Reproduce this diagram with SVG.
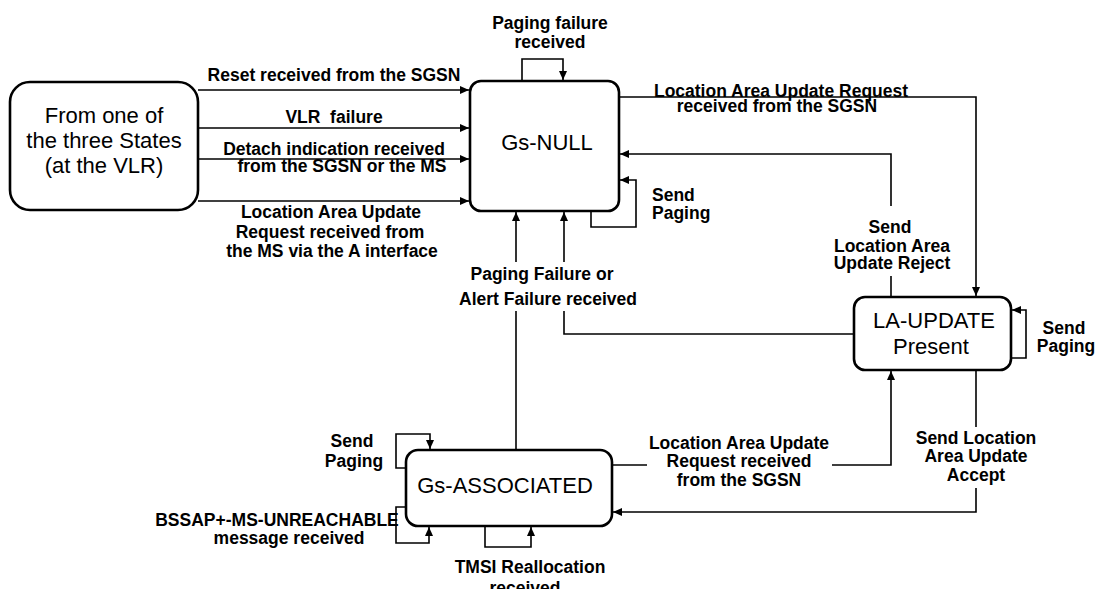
<svg xmlns="http://www.w3.org/2000/svg" width="1097" height="589" viewBox="0 0 1097 589">
<style>
  .box { fill: #ffffff; stroke: #000000; stroke-width: 2.6; }
  .st { font-family: "Liberation Sans", Arial, sans-serif; font-size: 22px; fill: #000; text-anchor: middle; }
  .lb { font-family: "Liberation Sans", Arial, sans-serif; font-size: 17.5px; font-weight: bold; fill: #000; text-anchor: middle; }
  .ls { text-anchor: start; }
  .c { fill: none; stroke: #000000; stroke-width: 1.6; }
  .a { marker-end: url(#arr); }
</style>
<defs>
  <marker id="arr" markerUnits="userSpaceOnUse" markerWidth="10" markerHeight="8" refX="9" refY="4" orient="auto">
    <path d="M0,0 L9,4 L0,8 Z" fill="#000"/>
  </marker>
</defs>
<rect width="1097" height="589" fill="#ffffff"/>

<g id="connectors">
  <path class="c a" d="M198,90 H469"/>
  <path class="c a" d="M198,128 H469"/>
  <path class="c a" d="M198,159 H469"/>
  <path class="c a" d="M198,201 H469"/>
  <path class="c a" d="M522,81 V59 H563 V80"/>
  <path class="c a" d="M619,97 H976 V296"/>
  <path class="c" d="M891,297 V276"/>
  <path class="c a" d="M891,206 V154 H620"/>
  <path class="c a" d="M591,211 V227 H636 V180 H620"/>
  <path class="c" d="M854,334 H564 V311"/>
  <path class="c a" d="M564,262 V212"/>
  <path class="c" d="M516,450 V311"/>
  <path class="c a" d="M516,262 V212"/>
  <path class="c" d="M612,465 H647"/>
  <path class="c a" d="M832,465 H891 V371"/>
  <path class="c" d="M976,370 V427"/>
  <path class="c a" d="M976,488 V512 H613"/>
  <path class="c a" d="M1011,358 H1026 V310 H1012"/>
  <path class="c a" d="M406,468 H396 V434 H430 V449"/>
  <path class="c a" d="M406,507 H396 V543 H429 V527"/>
  <path class="c a" d="M485,526 V547 H531 V527"/>
</g>

<g id="node-from">
  <rect class="box" x="10" y="82" width="188" height="128" rx="20" ry="20"/>
  <text class="st" x="104" y="123">From one of</text>
  <text class="st" x="104" y="148">the three States</text>
  <text class="st" x="104" y="173">(at the VLR)</text>
</g>
<g id="node-gs-null">
  <rect class="box" x="470" y="81" width="149" height="130" rx="11" ry="11"/>
  <text class="st" x="547" y="150">Gs-NULL</text>
</g>
<g id="node-la-update">
  <rect class="box" x="854" y="297" width="157" height="73" rx="11" ry="11"/>
  <text class="st" x="934" y="328">LA-UPDATE</text>
  <text class="st" x="931" y="354">Present</text>
</g>
<g id="node-gs-associated">
  <rect class="box" x="406" y="450" width="206" height="76" rx="12" ry="12"/>
  <text class="st" x="505" y="493">Gs-ASSOCIATED</text>
</g>

<g id="labels">
  <text class="lb" x="334" y="81">Reset received from the SGSN</text>
  <text class="lb" x="334" y="123" style="white-space:pre">VLR  failure</text>
  <text class="lb" x="334" y="155">Detach indication received</text>
  <text class="lb" x="342" y="172">from the SGSN or the MS</text>
  <text class="lb" x="331" y="218">Location Area Update</text>
  <text class="lb" x="330" y="238">Request received from</text>
  <text class="lb" x="332" y="257">the MS via the A interface</text>
  <text class="lb" x="550" y="29">Paging failure</text>
  <text class="lb" x="550" y="48">received</text>
  <text class="lb" x="781" y="97">Location Area Update Request</text>
  <text class="lb" x="777" y="112">received from the SGSN</text>
  <text class="lb ls" x="652" y="201">Send</text>
  <text class="lb ls" x="652" y="219">Paging</text>
  <text class="lb" x="890" y="233">Send</text>
  <text class="lb" x="892" y="252">Location Area</text>
  <text class="lb" x="892" y="269">Update Reject</text>
  <text class="lb" x="1064" y="334">Send</text>
  <text class="lb" x="1066" y="352">Paging</text>
  <text class="lb" x="542" y="280">Paging Failure or</text>
  <text class="lb" x="548" y="305">Alert Failure received</text>
  <text class="lb" x="352" y="447">Send</text>
  <text class="lb" x="354" y="467">Paging</text>
  <text class="lb" x="277" y="526">BSSAP+-MS-UNREACHABLE</text>
  <text class="lb" x="289" y="544">message received</text>
  <text class="lb" x="530" y="573">TMSI Reallocation</text>
  <text class="lb" x="525" y="594">received</text>
  <text class="lb" x="739" y="449">Location Area Update</text>
  <text class="lb" x="739" y="467">Request received</text>
  <text class="lb" x="739" y="486">from the SGSN</text>
  <text class="lb" x="976" y="444">Send Location</text>
  <text class="lb" x="976" y="462">Area Update</text>
  <text class="lb" x="976" y="481">Accept</text>
</g>
</svg>
